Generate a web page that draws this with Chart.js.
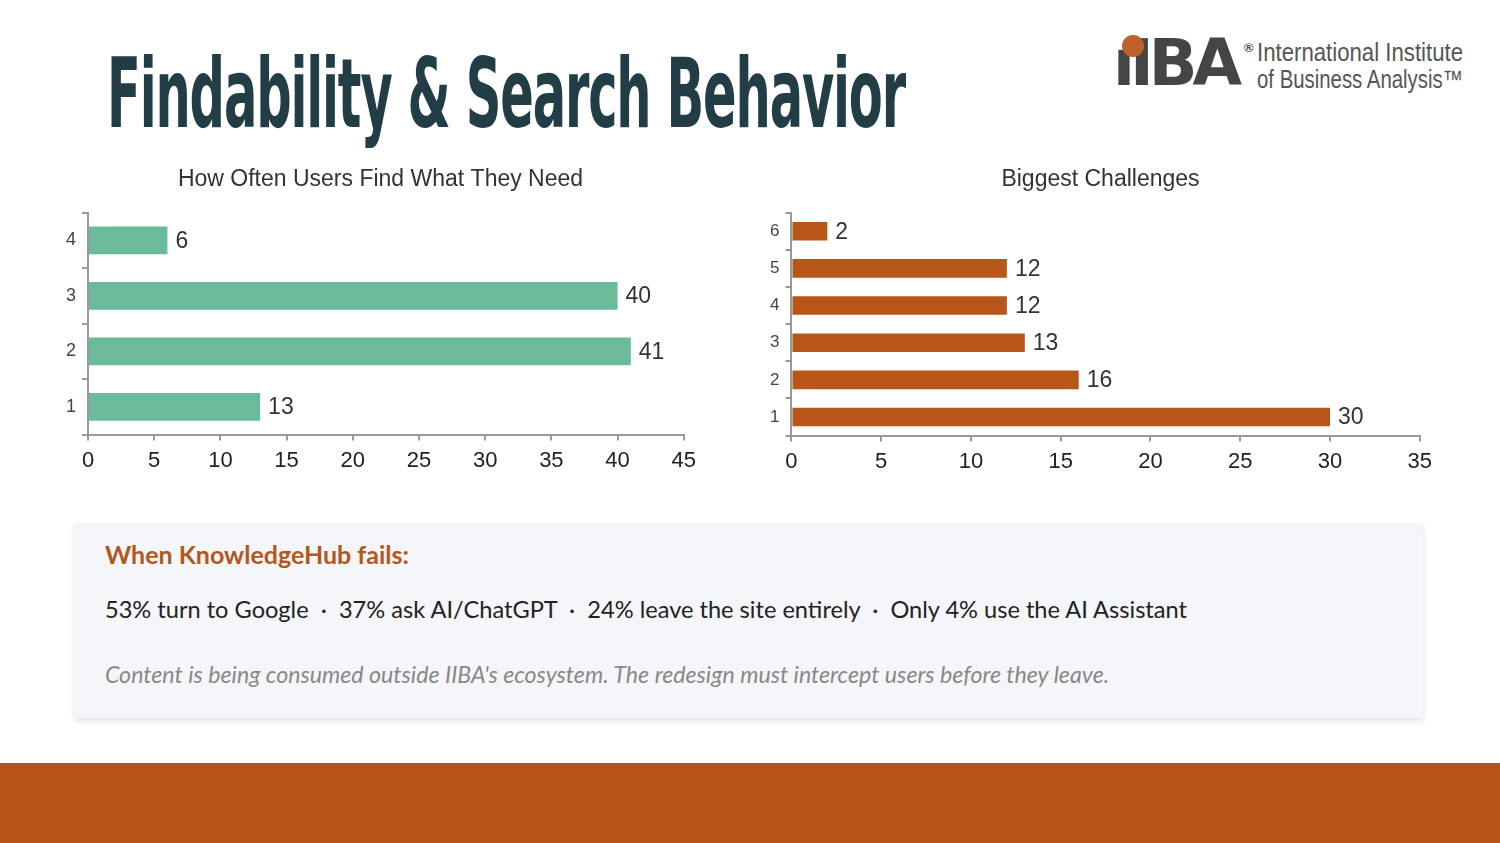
<!DOCTYPE html>
<html>
<head>
<meta charset="utf-8">
<script src="https://cdn.jsdelivr.net/npm/chart.js@4/dist/chart.umd.min.js"></script>
<style>
  html, body { margin: 0; padding: 0; }
  body { width: 1500px; height: 843px; position: relative; overflow: hidden; background: #fff; font-family: "Liberation Sans", Arial, sans-serif; }
  #title { position: absolute; left: 107px; top: 38px; font-family: "DejaVu Sans Condensed", sans-serif; font-weight: bold; font-size: 96px; color: #233d47; white-space: nowrap; transform-origin: 0 0; letter-spacing: -2px; }
  #logo { position: absolute; left: 1113px; top: 26px; height: 70px; width: 370px; }
  #logoMark { position: absolute; left: 0; top: 2px; font-family: "DejaVu Sans", sans-serif; font-weight: bold; font-size: 64px; color: #454545; letter-spacing: -5px; line-height: 70px; }
  #logoDot { position: absolute; left: 9px; top: 9px; width: 22px; height: 22px; border-radius: 50%; background: #c0602a; }
  #logoReg { position: absolute; left: 131px; top: 14px; font-size: 13px; font-weight: bold; color: #454545; }
  .logoLine { position: absolute; left: 144px; font-family: "Liberation Sans", Arial, sans-serif; font-size: 25px; color: #555; white-space: nowrap; transform-origin: 0 0; }
  #logoLine1 { top: 12px; }
  #logoLine2 { top: 39px; }
  .chartBox { position: absolute; }
  #leftBox { left: 54px; top: 160px; width: 649px; height: 321px; }
  #rightBox { left: 758px; top: 160px; width: 681px; height: 322px; }
  #callout { position: absolute; left: 75px; top: 523px; width: 1348px; height: 195px; background: #f5f6f9; box-shadow: 0 3px 6px rgba(0,0,0,0.12); font-family: Lato, "Open Sans", sans-serif; }
  #callHead { position: absolute; left: 30px; top: 16px; font-size: 25px; font-weight: bold; color: #b5561c; }
  #callBody { position: absolute; left: 30px; top: 72px; font-size: 23.6px; color: #222; white-space: nowrap; }
  #callNote { position: absolute; left: 30px; top: 137px; font-size: 23.2px; font-style: italic; color: #888; white-space: nowrap; }
  #footer { position: absolute; left: 0; top: 763px; width: 1500px; height: 80px; background: #b8541a; }
</style>
</head>
<body>
<div id="title">Findability &amp; Search Behavior</div>

<div id="logo">
  <div id="logoMark">ıIBA</div>
  <div id="logoDot"></div>
  <div id="logoReg">®</div>
  <div class="logoLine" id="logoLine1">International Institute</div>
  <div class="logoLine" id="logoLine2">of Business Analysis™</div>
</div>

<div class="chartBox" id="leftBox"><canvas id="leftChart"></canvas></div>
<div class="chartBox" id="rightBox"><canvas id="rightChart"></canvas></div>

<div id="callout">
  <div id="callHead">When KnowledgeHub fails:</div>
  <div id="callBody">53% turn to Google &nbsp;·&nbsp; 37% ask AI/ChatGPT &nbsp;·&nbsp; 24% leave the site entirely &nbsp;·&nbsp; Only 4% use the AI Assistant</div>
  <div id="callNote">Content is being consumed outside IIBA's ecosystem. The redesign must intercept users before they leave.</div>
</div>

<div id="footer"></div>

<script>
// --- data ---
const findLabels = ["1", "2", "3", "4"];
const findValues = [13, 41, 40, 6];
const findTicks = [0, 5, 10, 15, 20, 25, 30, 35, 40, 45];

const challengeLabels = ["1", "2", "3", "4", "5", "6"];
const challengeValues = [30, 16, 13, 12, 12, 2];
const challengeTicks = [0, 5, 10, 15, 20, 25, 30, 35];

// squeeze text to the widths seen in the reference
function fitWidth(id, target) {
    const el = document.getElementById(id);
    const w = el.getBoundingClientRect().width;
    el.style.transform = `scaleX(${target / w})`;
}
fitWidth('title', 798);
fitWidth('logoLine1', 206);
fitWidth('logoLine2', 206);

// value labels at the end of each bar
const barValues = {
    id: 'barValues',
    afterDatasetsDraw(chart, args, opts) {
        const ctx = chart.ctx;
        const meta = chart.getDatasetMeta(0);
        ctx.save();
        ctx.font = `${opts.size}px "Liberation Sans", Arial, sans-serif`;
        ctx.fillStyle = '#333';
        ctx.textBaseline = 'middle';
        meta.data.forEach((bar, i) => {
            ctx.fillText(chart.data.datasets[0].data[i], bar.x + 8, bar.y + 1);
        });
        ctx.restore();
    }
};

function drawChart(canvasId, title, labels, values, ticks, color, opts) {
    const ctx = document.getElementById(canvasId).getContext('2d');
    return new Chart(ctx, {
        type: 'bar',
        data: {
            labels: labels,
            datasets: [{
                data: values,
                backgroundColor: color,
                barPercentage: opts.barPct,
                categoryPercentage: 1
            }]
        },
        plugins: [barValues],
        options: {
            indexAxis: 'y',
            responsive: true,
            maintainAspectRatio: false,
            animation: false,
            layout: { padding: opts.padding },
            plugins: {
                legend: { display: false },
                tooltip: { enabled: false },
                title: {
                    display: true,
                    text: title,
                    color: '#333',
                    font: { family: '"Liberation Sans", Arial, sans-serif', size: 23, weight: 'normal' },
                    padding: { top: 0, bottom: opts.titleGap }
                },
                barValues: { size: 23 }
            },
            scales: {
                x: {
                    min: 0,
                    max: ticks[ticks.length - 1],
                    afterBuildTicks: axis => { axis.ticks = ticks.map(v => ({ value: v })); },
                    grid: { drawOnChartArea: false, drawTicks: true, tickLength: 6, color: '#999', lineWidth: 2 },
                    border: { display: true, color: '#999', width: 2 },
                    ticks: { color: '#222', padding: 7, font: { family: '"Liberation Sans", Arial, sans-serif', size: 22 } }
                },
                y: {
                    reverse: true,
                    grid: { drawOnChartArea: false, drawTicks: true, tickLength: 6, color: '#999', lineWidth: 2 },
                    border: { display: true, color: '#999', width: 2 },
                    ticks: { color: '#444', padding: 6, font: { family: '"Liberation Sans", Arial, sans-serif', size: opts.ySize } }
                }
            }
        }
    });
}

drawChart('leftChart', 'How Often Users Find What They Need', findLabels, findValues, findTicks, '#6bbb9a',
    { barPct: 0.5, padding: { left: 6, right: 2, top: 6, bottom: 0 }, titleGap: 19, ySize: 18 });
drawChart('rightChart', 'Biggest Challenges', challengeLabels, challengeValues, challengeTicks, '#b85518',
    { barPct: 0.5, padding: { left: 6, right: 2, top: 6, bottom: 0 }, titleGap: 19, ySize: 17 });
</script>
</body>
</html>
